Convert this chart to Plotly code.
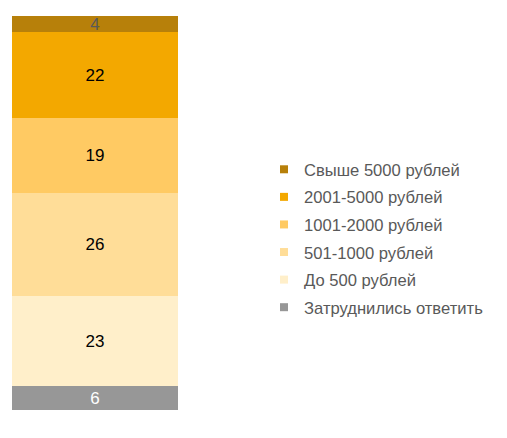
import plotly.graph_objects as go

# Data (bottom to top)
categories = ["Затруднились ответить", "До 500 рублей", "501-1000 рублей",
              "1001-2000 рублей", "2001-5000 рублей", "Свыше 5000 рублей"]
values = [6, 23, 26, 19, 22, 4]
colors = ["#979797", "#FFEFCA", "#FFDD98", "#FFCA63", "#F3A800", "#B7800A"]
label_colors = ["#FFFFFF", "#000000", "#000000", "#000000", "#000000", "#595959"]

W, H = 507, 438
FONT = "Liberation Sans"
fig = go.Figure()

for cat, v, c, lc in zip(categories, values, colors, label_colors):
    fig.add_trace(go.Bar(
        x=[0], y=[v], width=[1], marker=dict(color=c, line=dict(width=0)),
        text=[str(v)], textposition="inside", insidetextanchor="middle",
        textangle=0, constraintext="none", cliponaxis=False,
        textfont=dict(family=FONT, size=17, color=lc),
        showlegend=False, name=cat, hoverinfo="skip"))

# Legend entries (top of legend = top of stack)
for i, (cat, c) in enumerate(reversed(list(zip(categories, colors)))):
    fig.add_trace(go.Scatter(
        x=[None], y=[None], mode="markers", name=cat,
        marker=dict(symbol="square", size=8, color=c),
        legendgroup=f"g{i}", showlegend=True))

fig.update_layout(
    width=W, height=H,
    margin=dict(l=0, r=0, t=16, b=28),
    paper_bgcolor="white", plot_bgcolor="white",
    barmode="stack", bargap=0,
    xaxis=dict(domain=[12 / W, 178 / W], range=[-0.5, 0.5], visible=False, fixedrange=True),
    yaxis=dict(range=[0, 100], visible=False, fixedrange=True),
    showlegend=True,
    legend=dict(
        x=264 / W, xanchor="left", y=(410 - 238.5) / 394, yanchor="middle",
        traceorder="grouped", tracegroupgap=3,
        font=dict(family=FONT, size=16.6, color="#595959"),
        bgcolor="rgba(0,0,0,0)", borderwidth=0),
)

fig.write_html("out.html")
